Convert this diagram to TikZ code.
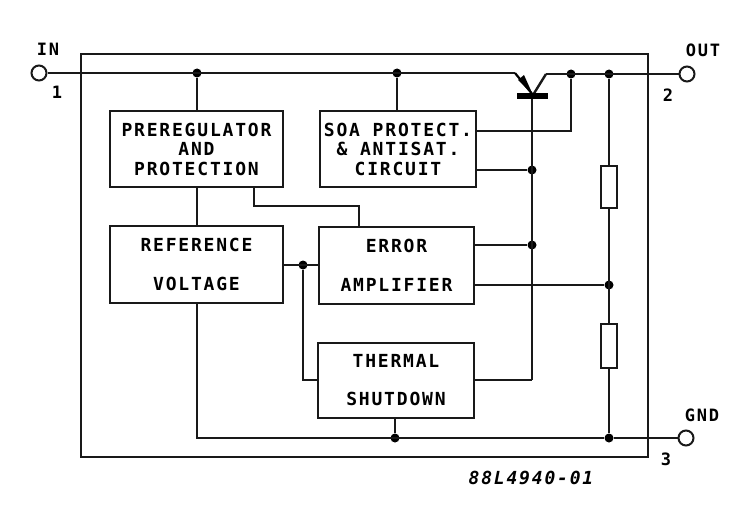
\documentclass[tikz,border=0pt]{standalone}
\usepackage{fontspec}
\setmainfont{DejaVu Sans Mono}[LetterSpace=10]
\begin{document}
\begin{tikzpicture}[x=1pt,y=-1pt,
  wire/.style={line width=1.8pt,black!90},
  thick wire/.style={line width=2.2pt,black!90},
  block/.style={draw=black!90,line width=2.2pt,fill=white,inner sep=0pt,align=center,font=\fontsize{18}{19.5}\selectfont\bfseries},
  dot/.style={circle,fill=black,inner sep=0pt,minimum size=9pt},
  pin/.style={circle,draw=black!90,line width=2pt,fill=white,inner sep=0pt,minimum size=15pt},
  res/.style={draw=black!90,line width=2pt,fill=white,inner sep=0pt,minimum width=16pt,minimum height=42pt},
  pinlabel/.style={font=\fontsize{17}{17}\selectfont\bfseries,inner sep=0pt}]
\useasboundingbox (0,0) rectangle (746,516);
\fill[white] (0,0) rectangle (746,516);
\draw[thick wire] (81,54) rectangle (648,457);
% pins
\node[pin] (in) at (39,73) {};
\node[pin] (out) at (687,74) {};
\node[pin] (gnd) at (686,438) {};
% blocks
\node[block,minimum width=173pt,minimum height=76pt] (pre) at (196.5,149) {PREREGULATOR\\AND\\PROTECTION};
\node[block,minimum width=156pt,minimum height=76pt] (soa) at (398,149) {SOA PROTECT.\\\&\ ANTISAT.\\CIRCUIT};
\node[block,minimum width=173pt,minimum height=77pt,font=\fontsize{18}{39}\selectfont\bfseries] (ref) at (196.5,264.5) {REFERENCE\\VOLTAGE};
\node[block,minimum width=155pt,minimum height=77pt,font=\fontsize{18}{39}\selectfont\bfseries] (err) at (396.5,265.5) {ERROR\\AMPLIFIER};
\node[block,minimum width=156pt,minimum height=75pt,font=\fontsize{18}{38}\selectfont\bfseries] (thm) at (396,380.5) {THERMAL\\SHUTDOWN};
% resistors
\node[res] (r1) at (609,187) {};
\node[res,minimum height=44pt] (r2) at (609,346) {};
% junctions
\node[dot] (jin) at (197,73) {};
\node[dot] (jsoa) at (397,73) {};
\node[dot] (jc) at (571,74) {};
\node[dot] (jr) at (609,74) {};
\node[dot] (jb1) at (532,170) {};
\node[dot] (jb2) at (532,245) {};
\node[dot] (jfb) at (609,285) {};
\node[dot] (jref) at (303,265) {};
\node[dot] (jg1) at (395,438) {};
\node[dot] (jg2) at (609,438) {};
\coordinate (eL) at (515,73);
\coordinate (eB) at (533,95);
\coordinate (cT) at (546,74);
\coordinate (cB) at (533,95);
\coordinate (bT) at (532,96);
\coordinate (bB) at (532,380);
\coordinate (soa1) at (476,131);
\coordinate (soa2) at (476,170);
\coordinate (err1) at (474,245);
\coordinate (err2) at (474,285);
\coordinate (thr) at (474,380);
\coordinate (thl) at (318,380);
\coordinate (errl) at (319,265);
\coordinate (refr) at (283,265);
\coordinate (prea) at (254,187);
\coordinate (erra) at (359,227);
\coordinate (refb) at (197,303);
% connectors
\draw[thick wire] (in) -- (eL);
\draw[thick wire] (cT) -- (out);
\draw[line width=2.4pt,black!90] (cT) -- (cB);
\draw[wire] (jin) -- (pre.north -| jin);
\draw[wire] (jsoa) -- (soa.north -| jsoa);
\draw[wire] (pre.south -| jin) -- (ref.north -| jin);
\draw[wire] (prea) |- (350,206) -| (erra);
\draw[wire] (refr) -- (errl);
\draw[wire] (jref) |- (thl);
\draw[wire] (soa1) -- (571,131) -- (jc);
\draw[wire] (soa2) -- (jb1);
\draw[wire] (err1) -- (jb2);
\draw[wire] (err2) -- (jfb);
\draw[wire] (thr) -- (bB);
\draw[thick wire] (bT) -- (bB);
\draw[wire] (jr) -- (r1.north);
\draw[wire] (r1.south) -- (r2.north);
\draw[thick wire] (r2.south) -- (jg2);
\draw[wire] (refb) |- (jg2);
\draw[wire] (jg2) -- (gnd);
\draw[wire] (jg1) -- (thm.south -| jg1);
% transistor
\draw[line width=6pt,black] (517,96) -- (548,96);
\fill[black] (eB) -- (518,80) -- (524,75) -- cycle;
\draw[line width=2.2pt,black] (eL) -- (eB);
% labels
\node[pinlabel] (lin) at (48,49) {IN};
\node[pinlabel] (l1) at (57,92) {1};
\node[pinlabel] (lout) at (703,50) {OUT};
\node[pinlabel] (l2) at (668,95) {2};
\node[pinlabel] (lgnd) at (702,415) {GND};
\node[pinlabel] (l3) at (666,459) {3};
\node[pinlabel,font=\fontsize{18}{18}\selectfont\bfseries\itshape] (code) at (531,478) {88L4940-01};
\end{tikzpicture}
\end{document}
